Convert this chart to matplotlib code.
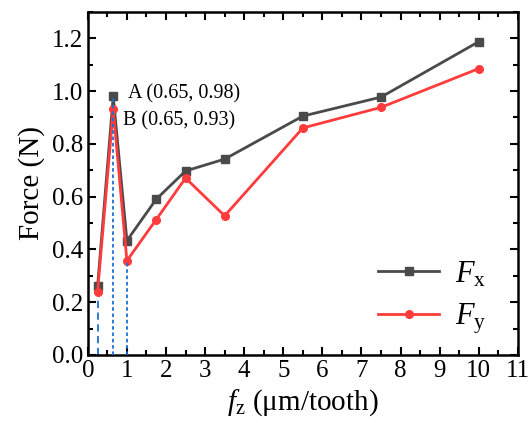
import matplotlib
matplotlib.use('Agg')
from matplotlib import pyplot as plt
from matplotlib.ticker import MultipleLocator

plt.rcParams['font.family'] = 'Liberation Serif'
plt.rcParams['mathtext.fontset'] = 'custom'
plt.rcParams['mathtext.rm'] = 'Liberation Serif'
plt.rcParams['mathtext.it'] = 'Liberation Serif:italic'

fz = [0.25, 0.65, 1, 1.75, 2.5, 3.5, 5.5, 7.5, 10]
fx = [0.26, 0.98, 0.433, 0.59, 0.697, 0.742, 0.905, 0.977, 1.187]
fy = [0.24, 0.93, 0.357, 0.513, 0.67, 0.527, 0.86, 0.938, 1.085]

fig = plt.figure(figsize=(5.29, 4.23), dpi=100)
ax = fig.add_axes([0.166, 0.161, 0.813, 0.811])

# guide lines down to the x axis for the first three feeds
ax.vlines(fz[0], 0, fy[0], colors='#1f6fd0', linestyles=(0, (4, 2.5)), lw=1.3, zorder=1)
ax.vlines(fz[1], 0, fx[1], colors='#1f6fd0', linestyles=(0, (2, 1.5)), lw=1.3, zorder=4)
ax.vlines(fz[2], 0, fy[2], colors='#1f6fd0', linestyles=(0, (2, 1.5)), lw=1.3, zorder=4)

ax.plot(fz, fx, color='#4a4a4a', lw=2, marker='s', ms=5.5, label=r'$\mathit{F}_{\mathrm{x}}$', zorder=2)
ax.plot(fz, fy, color='#ff3b3b', lw=2, marker='o', ms=5.5, label=r'$\mathit{F}_{\mathrm{y}}$', zorder=3)

ax.text(1.03, fx[1] + 0.01, 'A (0.65, 0.98)', fontsize=14.5, va='center')
ax.text(0.9, fy[1] - 0.045, 'B (0.65, 0.93)', fontsize=14.5, va='center')

ax.set_xlim(0, 11)
ax.set_ylim(0, 1.3)
ax.xaxis.set_major_locator(MultipleLocator(1))
ax.xaxis.set_minor_locator(MultipleLocator(0.5))
ax.yaxis.set_major_locator(MultipleLocator(0.2))
ax.yaxis.set_minor_locator(MultipleLocator(0.1))
ax.yaxis.set_major_formatter(lambda v, p: f'{v:.1f}')
ax.tick_params(which='both', direction='in', top=True, right=True, width=1.5, labelsize=18)
ax.tick_params(which='major', length=6)
ax.tick_params(which='minor', length=3.5)
for s in ax.spines.values():
    s.set_linewidth(1.8)

ax.set_xlabel(r'$\mathit{f}_{\mathrm{z}}$ (μm/tooth)', fontsize=21, labelpad=4)
ax.set_ylabel('Force (N)', fontsize=21, labelpad=5)

ax.legend(loc='lower right', bbox_to_anchor=(0.99, -0.025), frameon=False, fontsize=22,
          handlelength=2.0, handletextpad=0.5, labelspacing=0.4)

fig.savefig('out.png', dpi=100)
